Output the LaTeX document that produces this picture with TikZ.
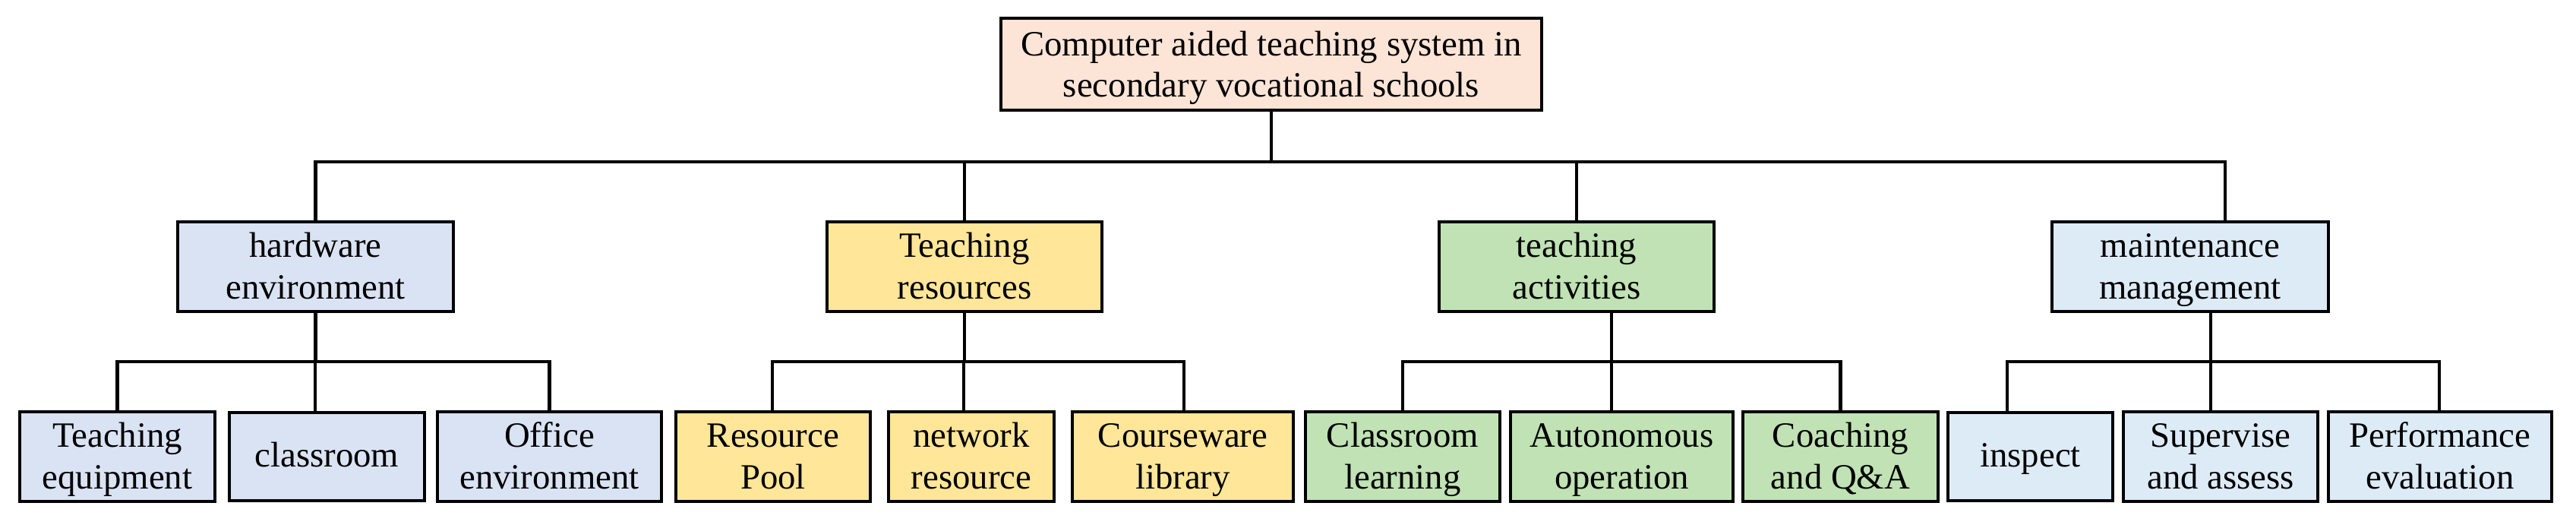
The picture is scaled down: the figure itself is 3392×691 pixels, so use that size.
\documentclass[tikz,border=0pt]{standalone}
\usepackage{fontspec}
\setmainfont{Liberation Serif}
\usepackage{tikz}
\usetikzlibrary{calc}

\definecolor{peach}{RGB}{252,228,214}
\definecolor{hwblue}{RGB}{218,227,243}
\definecolor{resyellow}{RGB}{255,230,153}
\definecolor{actgreen}{RGB}{192,226,180}
\definecolor{mtblue}{RGB}{221,235,247}

\begin{document}
\begin{tikzpicture}[x=0.01cm, y=-0.01cm]
	\tikzstyle{box} = [rectangle, draw=black, line width=1.2pt, inner sep=0pt, align=center, minimum height=1.16cm, font=\fontsize{13.3pt}{15.6pt}\selectfont, text height=28.9pt, text depth=4.8pt]
	\tikzstyle{single} = [text height=12.2pt]
	\tikzstyle{edge} = [line width=1.2pt, line cap=rect]
	\useasboundingbox (0,0) rectangle (3392,691);
	\node[box, fill=peach, minimum width=7.12cm, minimum height=1.17cm, text height=29.5pt](root) at (1674,84.5){Computer aided teaching system in\\secondary vocational schools};
	\node[box, fill=hwblue, minimum width=3.63cm](hw) at (415.5,351){hardware\\environment};
	\node[box, fill=resyellow, minimum width=3.62cm](tr) at (1270,351){Teaching\\resources};
	\node[box, fill=actgreen, minimum width=3.62cm](ta) at (2076,351){teaching\\activities};
	\node[box, fill=mtblue, minimum width=3.64cm](mm) at (2884,351){maintenance\\management};
	\node[box, fill=hwblue, minimum width=2.57cm](te) at (154.5,601){Teaching\\equipment};
	\node[box, single, fill=hwblue, minimum width=2.57cm](cr) at (430.5,601){classroom};
	\node[box, fill=hwblue, minimum width=2.95cm](oe) at (723.5,601){Office\\environment};
	\node[box, fill=resyellow, minimum width=2.56cm](rp) at (1018,601){Resource\\Pool};
	\node[box, fill=resyellow, minimum width=2.18cm](nr) at (1279,601){network\\resource};
	\node[box, fill=resyellow, minimum width=2.91cm](cl) at (1557.5,601){Courseware\\library};
	\node[box, fill=actgreen, minimum width=2.56cm](clr) at (1847,601){Classroom\\learning};
	\node[box, fill=actgreen, minimum width=2.93cm](ao) at (2135.5,601){Autonomous\\operation};
	\node[box, fill=actgreen, minimum width=2.57cm](cq) at (2423.5,601){Coaching\\and Q\&A};
	\node[box, single, fill=mtblue, minimum width=2.17cm](ins) at (2673.5,601){inspect};
	\node[box, fill=mtblue, minimum width=2.56cm](sa) at (2924,601){Supervise\\and assess};
	\node[box, fill=mtblue, minimum width=2.94cm](pe) at (3213,601){Performance\\evaluation};
	\coordinate (bar1) at (0,213);
	\coordinate (bar2) at (0,476);
	\draw[edge] (root.south) -- (root.south |- bar1);
	\draw[edge] (hw.north |- bar1) -- ([xshift=0.46cm]mm.north |- bar1);
	\draw[edge] (hw.north) -- (hw.north |- bar1);
	\draw[edge] (tr.north) -- (tr.north |- bar1);
	\draw[edge] (ta.north) -- (ta.north |- bar1);
	\draw[edge] ([xshift=0.46cm]mm.north) -- ([xshift=0.46cm]mm.north |- bar1);
	\draw[edge] (hw.south) -- (hw.south |- bar2);
	\draw[edge] (tr.south) -- (tr.south |- bar2);
	\draw[edge] ([xshift=0.46cm]ta.south) -- ([xshift=0.46cm]ta.south |- bar2);
	\draw[edge] ([xshift=0.27cm]mm.south) -- ([xshift=0.27cm]mm.south |- bar2);
	\draw[edge] (te.north |- bar2) -- (oe.north |- bar2);
	\draw[edge] ([xshift=-0.01cm]rp.north |- bar2) -- ([xshift=0.015cm]cl.north |- bar2);
	\draw[edge] (clr.north |- bar2) -- (cq.north |- bar2);
	\draw[edge] ([xshift=-0.305cm]ins.north |- bar2) -- ([xshift=-0.01cm]pe.north |- bar2);
	\draw[edge] (te.north) -- (te.north |- bar2);
	\draw[edge] ([xshift=-0.155cm]cr.north) -- ([xshift=-0.155cm]cr.north |- bar2);
	\draw[edge] (oe.north) -- (oe.north |- bar2);
	\draw[edge] ([xshift=-0.01cm]rp.north) -- ([xshift=-0.01cm]rp.north |- bar2);
	\draw[edge] ([xshift=-0.1cm]nr.north) -- ([xshift=-0.1cm]nr.north |- bar2);
	\draw[edge] ([xshift=0.015cm]cl.north) -- ([xshift=0.015cm]cl.north |- bar2);
	\draw[edge] (clr.north) -- (clr.north |- bar2);
	\draw[edge] ([xshift=-0.135cm]ao.north) -- ([xshift=-0.135cm]ao.north |- bar2);
	\draw[edge] (cq.north) -- (cq.north |- bar2);
	\draw[edge] ([xshift=-0.305cm]ins.north) -- ([xshift=-0.305cm]ins.north |- bar2);
	\draw[edge] ([xshift=-0.13cm]sa.north) -- ([xshift=-0.13cm]sa.north |- bar2);
	\draw[edge] ([xshift=-0.01cm]pe.north) -- ([xshift=-0.01cm]pe.north |- bar2);
\end{tikzpicture}
\end{document}
